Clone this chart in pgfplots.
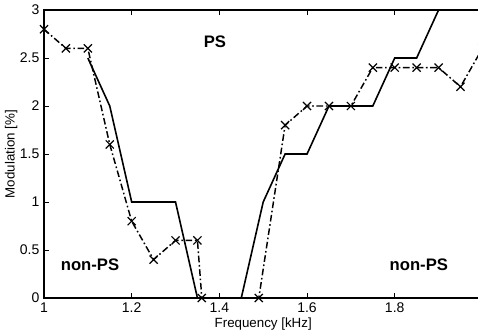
\documentclass[border=0pt]{standalone}
\usepackage{pgfplots}
\pgfplotsset{compat=1.18}
\usepackage{fontspec}
\setmainfont{Liberation Sans}
\begin{document}
\begin{tikzpicture}
\clip (-33pt,-24pt) rectangle (325.5pt,223.5pt);
\begin{axis}[
  at={(0pt,0pt)}, anchor=south west,
  scale only axis,
  width=328.8pt, height=216pt,
  xmin=1, xmax=2, ymin=0, ymax=3,
  axis line style={line width=0.8pt},
  tick align=inside,
  ytick pos=left,
  major tick length=4pt,
  tick style={line width=0.6pt, black},
  xtick={1,1.2,1.4,1.6,1.8},
  xticklabels={1,1.2,1.4,1.6,1.8},
  ytick={0,0.5,1,1.5,2,2.5,3},
  yticklabels={0,0.5,1,1.5,2,2.5,3},
  ticklabel style={font=\fontsize{10.5}{12}\selectfont},
  xlabel={Frequency [kHz]},
  ylabel={Modulation [\%]},
  label style={font=\fontsize{10}{12}\selectfont},
  xlabel style={yshift=3pt},
  ylabel style={yshift=-5pt},
  clip=false,
]
\addplot[black, line width=1.2pt] coordinates {
(1.1,2.5)(1.15,2)(1.2,1)(1.3,1)(1.35,0)(1.45,0)(1.5,1)(1.55,1.5)(1.6,1.5)
(1.65,2)(1.75,2)(1.8,2.5)(1.85,2.5)(1.9,3)(2,3)};
\addplot[black, line width=1.1pt, dash pattern=on 5pt off 2pt on 1.2pt off 2pt,
  mark=x, mark size=4.3pt, mark options={solid, line width=0.9pt}] coordinates {
(1,2.8)(1.05,2.6)(1.1,2.6)(1.15,1.6)(1.2,0.8)(1.25,0.4)(1.3,0.6)(1.35,0.6)
(1.36,0)(1.49,0)(1.55,1.8)(1.6,2)(1.65,2)(1.7,2)(1.75,2.4)(1.8,2.4)(1.85,2.4)
(1.9,2.4)(1.95,2.2)(2,2.6)};
\node[font=\fontsize{12.5}{14}\selectfont\bfseries] at (axis cs:1.39,2.67) {PS};
\node[font=\fontsize{12.5}{14}\selectfont\bfseries] at (axis cs:1.105,0.35) {non-PS};
\node[font=\fontsize{12.5}{14}\selectfont\bfseries] at (axis cs:1.855,0.35) {non-PS};
\end{axis}
\end{tikzpicture}
\end{document}
